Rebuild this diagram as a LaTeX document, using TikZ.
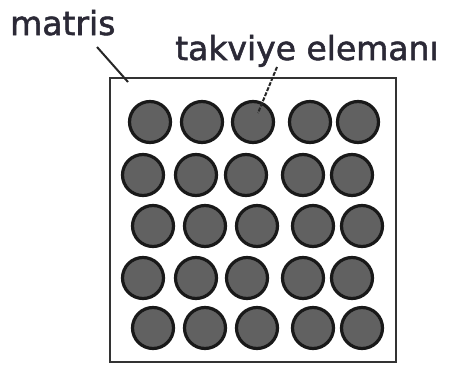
\documentclass[tikz,border=0pt]{standalone}
\usepackage{fontspec}
\setmainfont{DejaVu Sans}
\newfontfamily\lblfont[FakeBold=1.6]{DejaVu Sans}
\definecolor{labelink}{rgb}{0.17,0.16,0.21}
\begin{document}
\begin{tikzpicture}[x=1pt,y=-1pt,
  lbl/.style={inner sep=0pt, anchor=base west, text=labelink,
    font=\lblfont\fontsize{33}{36}\selectfont},
  fibre/.style={circle, draw=black!90, line width=3.2pt, fill=black!62,
    minimum size=41pt, inner sep=0pt},
  leader/.style={line width=2pt, draw=black!85}]
\useasboundingbox (0,0) rectangle (452,364);
\fill[white] (0,0) rectangle (452,364);

% matrix block
\node[draw=black!80, line width=2.2pt, minimum width=286pt, minimum height=284pt,
  inner sep=0pt] (box) at (253,220) {};

% reinforcement fibres, row by row
\foreach \y/\xs [count=\r] in {122/{150,202,253,310,358},
                               175/{143,196,246,303,352},
                               226/{153,205,257,313,362},
                               278/{143,196,247,303,352},
                               328/{153,205,257,313,362}}{
  \foreach \x [count=\c] in \xs
    \node[fibre] (c\r\c) at (\x,\y) {};
}

% labels
\node[lbl] (matris) at (10,35) {matris};
\node[lbl] (takviye) at (175,60) {takviye elemanı};

% leader lines
\coordinate (m1) at (97,47);
\coordinate (m2) at (128,82);
\draw[leader] (m1) -- (m2);
\coordinate (t1) at (277,67);
\coordinate (t2) at (258,113);
\draw[leader, dash pattern=on 4pt off 1.5pt] (t1) -- (t2);
\end{tikzpicture}
\end{document}
